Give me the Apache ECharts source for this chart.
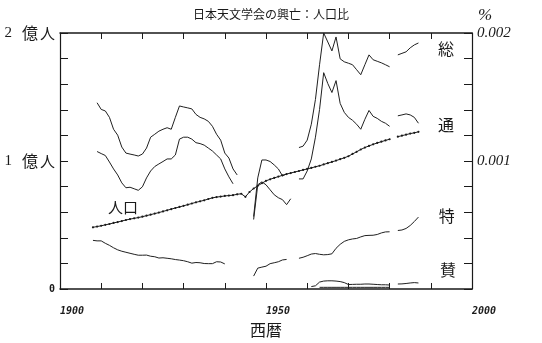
<!DOCTYPE html>
<html><head><meta charset="utf-8">
<script src="https://cdn.jsdelivr.net/npm/echarts@6/dist/echarts.min.js"></script>
<style>html,body{margin:0;padding:0;background:#fff}#c{width:542px;height:343px}</style>
</head><body><div id="c"></div>
<script>
// ---- data ----
const years = [
 1908,1909,1910,1911,1912,1913,1914,1915,1916,1917,
 1918,1919,1920,1921,1922,1923,1924,1925,1926,1927,
 1928,1929,1930,1931,1932,1933,1934,1935,1936,1937,
 1938,1939,1940,1941,1942,1943,1944,1945,1946,1947,
 1948,1949,1950,1951,1952,1953,1954,1955,1956,1957,
 1958,1959,1960,1961,1962,1963,1964,1965,1966,1967,
 1968,1969,1970,1971,1972,1973,1974,1975,1976,1977,
 1978,1979,1980,1981,1982,1983,1984,1985,1986,1987];

// 人口 (億人), left axis
const population = [
 0.482,0.488,0.494,0.501,0.508,0.516,0.523,0.531,0.539,0.546,
 0.552,0.558,0.565,0.573,0.581,0.589,0.597,0.606,0.615,0.624,
 0.633,0.641,0.650,0.659,0.668,0.677,0.685,0.693,0.703,0.712,
 0.718,0.722,0.727,0.730,0.733,0.740,0.744,0.720,0.758,0.785,
 0.806,0.826,0.845,0.857,0.868,0.878,0.888,0.898,0.906,0.914,
 0.922,0.930,0.938,0.946,0.955,0.963,0.973,0.983,0.993,1.003,
 1.014,1.025,1.037,1.055,1.072,1.090,1.105,1.118,1.130,1.141,
 1.151,1.161,1.170,null,1.190,1.198,1.206,1.214,1.220,1.228];

// 総 (% of population), right axis
const sou = [
 null,0.001455,0.001403,0.001391,0.001341,0.001248,0.001202,0.001109,0.001062,0.001054,
 0.001047,0.001039,0.001054,0.001101,0.001186,0.001209,0.001233,0.001248,0.001260,0.001248,
 0.001341,0.001430,0.001422,0.001415,0.001407,0.001364,0.001341,0.001329,0.001310,0.001271,
 0.001209,0.001163,0.001062,0.001023,0.000938,0.000891,null,null,null,0.000566,
 0.000868,0.001008,0.001008,0.000996,0.000969,0.000938,0.000884,0.000899,null,null,
 0.001105,0.001116,0.001163,0.001287,0.001481,0.001752,0.002000,0.001930,0.001860,0.001969,
 0.001798,0.001775,0.001764,0.001752,0.001713,0.001674,0.001752,0.001829,0.001791,0.001779,
 0.001767,0.001752,0.001736,null,0.001829,0.001841,0.001853,0.001884,0.001907,0.001922];

// 通 (% of population)
const tsuu = [
 null,0.001074,0.001058,0.001043,0.000992,0.000938,0.000891,0.000829,0.000791,0.000795,
 0.000783,0.000771,0.000798,0.000868,0.000922,0.000957,0.000977,0.000996,0.001016,0.001016,
 0.001047,0.001171,0.001186,0.001186,0.001171,0.001143,0.001136,0.001124,0.001101,0.001078,
 0.001047,0.001016,0.000938,0.000876,0.000822,null,null,null,null,0.000543,
 0.000814,0.000837,0.000814,0.000775,0.000736,0.000713,0.000698,0.000659,0.000705,null,
 0.000860,0.000860,0.000922,0.001016,0.001186,0.001403,0.001690,0.001605,0.001535,0.001628,
 0.001450,0.001380,0.001341,0.001318,0.001287,0.001248,0.001326,0.001395,0.001349,0.001333,
 0.001310,0.001295,0.001271,null,0.001353,0.001360,0.001368,0.001360,0.001341,0.001295];

// 特 (% of population)
const toku = [
 0.000380,0.000376,0.000376,0.000357,0.000341,0.000322,0.000306,0.000295,0.000287,0.000279,
 0.000271,0.000264,0.000264,0.000265,0.000256,0.000252,0.000242,0.000244,0.000240,0.000236,
 0.000230,0.000226,0.000221,0.000213,0.000202,0.000207,0.000205,0.000199,0.000198,0.000198,
 0.000213,0.000211,0.000196,null,null,null,null,null,null,0.000101,
 0.000163,0.000171,0.000178,0.000198,0.000205,0.000213,0.000227,0.000231,null,null,
 0.000240,0.000248,0.000260,0.000273,0.000277,0.000271,0.000267,0.000269,0.000275,0.000318,
 0.000349,0.000372,0.000384,0.000391,0.000395,0.000407,0.000417,0.000419,0.000420,0.000426,
 0.000438,0.000446,0.000447,null,0.000457,0.000461,0.000473,0.000496,0.000527,0.000562];

// 賛 (% of population)
const sanYears = [1961,1962,1963,1964,1965,1966,1967,1968,1969,1970,1971,1972,1973,1974,
 1975,1976,1977,1978,1979,1980,1981,1982,1983,1984,1985,1986,1987];
const san = [0.000019,0.000025,0.000054,0.000062,0.000064,0.000064,0.000062,0.000058,0.000050,0.000035,
 0.000036,0.000037,0.000037,0.000039,0.000039,0.000037,0.000035,0.000033,0.000033,0.000031,
 null,0.000039,0.000040,0.000043,0.000047,0.000050,0.000047];

// faint line lying just above the axis under 賛
const lowYears = [1963,1964,1965,1966,1967,1968,1969,1970,1971,1972,1973,1974,1975,1976,1977,1978,1979,1980];
const low = [0.000013,0.000013,0.000013,0.000013,0.000013,0.000013,0.000013,0.000013,0.000013,
 0.000013,0.000013,0.000013,0.000013,0.000013,0.000013,0.000013,0.000013,0.000013];

const xTickLabels = {1900:'1900', 1950:'1950', 2000:'2000'};
const leftTickLabels = {0:'0', 1:'1', 2:'2'};
const rightTickLabels = {1:'0.001', 2:'0.002'};

// ---- chart ----
function pairs(xs, vs){ return xs.map((x,i)=>[x, vs[i]]); }
const ink = '#1a1a1a';
const cjk = '"Noto Sans CJK JP", sans-serif';
const serif = '"Liberation Serif", serif';
const mono = '"DejaVu Sans Mono", monospace';

function tag(text, coord, size){
  return {
    symbol:'rect', symbolSize:1, silent:true,
    itemStyle:{color:'rgba(0,0,0,0)'},
    label:{show:true, position:'inside', formatter:text, fontFamily:cjk, fontSize:size, color:ink},
    data:[{coord:coord}]
  };
}
function memberLine(name, xs, vs, lab){
  const s = {
    name:name, type:'line', xAxisIndex:0, yAxisIndex:1, data:pairs(xs, vs),
    symbol:'none', connectNulls:false, silent:true,
    lineStyle:{color:'#202020', width:1}
  };
  if (lab) s.markPoint = tag(name, lab, 16);
  return s;
}
const xCommon = {
  type:'value', min:1900, max:2000, interval:10,
  axisLine:{show:true, onZero:false, lineStyle:{color:ink, width:1.5}},
  axisTick:{show:true, inside:true, length:6, lineStyle:{color:ink, width:1}},
  splitLine:{show:false}
};
const chart = echarts.init(document.getElementById('c'));
chart.setOption({
  animation:false,
  backgroundColor:'#fff',
  title:{text:'日本天文学会の興亡：人口比', left:'center', top:8, padding:0,
    textStyle:{fontFamily:cjk, fontSize:12, fontWeight:'normal', color:ink}},
  grid:{left:60, right:70, top:33, bottom:52},
  xAxis:[
    Object.assign({}, xCommon, {position:'bottom',
      axisLabel:{formatter:v=>xTickLabels[v]||'', align:'left', margin:17,
        fontFamily:mono, fontStyle:'italic', fontWeight:'bold', fontSize:10, color:ink},
      name:'西暦', nameLocation:'middle', nameGap:33,
      nameTextStyle:{fontFamily:cjk, fontSize:16, color:ink}}),
    Object.assign({}, xCommon, {position:'top', axisLabel:{show:false}})
  ],
  yAxis:[
    {type:'value', min:0, max:2, interval:0.2, position:'left',
      axisLine:{show:true, onZero:false, lineStyle:{color:ink, width:1.2}},
      axisTick:{show:true, inside:true, length:8, lineStyle:{color:ink}},
      splitLine:{show:false},
      axisLabel:{margin:5, formatter:v=>{
          const r = Math.round(v*1000)/1000;
          if (!(r in leftTickLabels)) return '';
          if (r === 0) return '{d|0}';
          return '{n|' + leftTickLabels[r] + '}{k|億}{m|人}';
        },
        rich:{
          d:{fontFamily:mono, fontWeight:'bold', fontSize:10, color:ink},
          n:{fontFamily:serif, fontSize:15, color:ink, padding:[0,10,0,0]},
          k:{fontFamily:cjk, fontSize:16, color:ink, padding:[0,2,0,0]},
          m:{fontFamily:cjk, fontSize:15, color:ink}
        }}},
    {type:'value', min:0, max:0.002, interval:0.0002, position:'right',
      axisLine:{show:true, onZero:false, lineStyle:{color:ink, width:1.2}},
      axisTick:{show:true, inside:true, length:8, lineStyle:{color:ink}},
      splitLine:{show:false},
      name:'%', nameLocation:'end', nameGap:9,
      nameTextStyle:{fontFamily:serif, fontStyle:'italic', fontSize:17, color:ink, align:'left', padding:[0,0,0,6]},
      axisLabel:{margin:5, formatter:v=>{
          const r = Math.round(v*1000000)/1000;
          return rightTickLabels[r] || '';
        },
        fontFamily:serif, fontStyle:'italic', fontSize:15, color:ink}}
  ],
  series:[
    {name:'人口', type:'line', xAxisIndex:0, yAxisIndex:0, data:pairs(years, population),
      symbol:'circle', symbolSize:2.2, showSymbol:true, showAllSymbol:true, connectNulls:false, silent:true,
      itemStyle:{color:ink}, lineStyle:{color:ink, width:1},
      markPoint:tag('人口', [1915.3, 0.636], 15)},
    memberLine('総', years, sou, [1993.7, 0.001876]),
    memberLine('通', years, tsuu, [1993.7, 0.001279]),
    memberLine('特', years, toku, [1993.9, 0.000574]),
    memberLine('賛', sanYears, san, [1994.2, 0.000147]),
    memberLine('', lowYears, low, null)
  ]
});
</script></body></html>
